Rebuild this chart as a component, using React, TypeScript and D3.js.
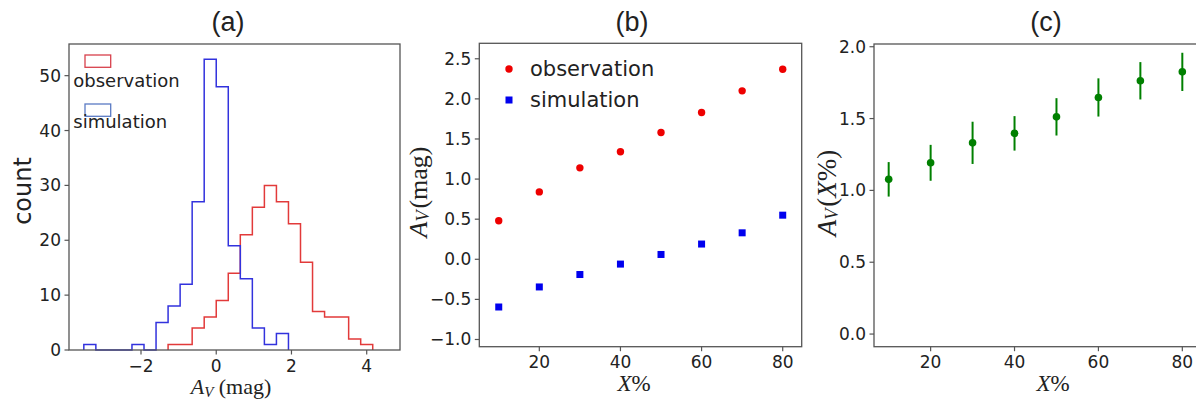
import React from "react";
import * as d3 from "d3";

// ---------- data ----------
const binWidth = 0.32;
const binStartIndex = -11; // first bin edge = -11 * 0.32
const obsCounts = [0, 0, 0, 0, 0, 0, 0, 1, 1, 4, 6, 9, 14, 21, 26, 30, 27, 23, 16, 7, 6, 6, 2, 1];
const simCounts = [1, 0, 0, 0, 1, 0, 5, 8, 12, 27, 53, 48, 19, 13, 4, 1, 3, 0, 0, 0, 0, 0, 0, 0];
const histXTicks = [-2, 0, 2, 4];
const histYTicks = [0, 10, 20, 30, 40, 50];

const xPercent = [10, 20, 30, 40, 50, 60, 70, 80];
const obsAv = [0.48, 0.84, 1.14, 1.34, 1.58, 1.83, 2.1, 2.37];
const simAv = [-0.595, -0.345, -0.19, -0.06, 0.06, 0.19, 0.33, 0.55];
const bYTicks = [-1.0, -0.5, 0.0, 0.5, 1.0, 1.5, 2.0, 2.5];
const pctTicks = [20, 40, 60, 80];

const avX = [1.077, 1.192, 1.331, 1.397, 1.512, 1.647, 1.763, 1.825];
const avXErr = [0.12, 0.125, 0.147, 0.12, 0.13, 0.133, 0.13, 0.133];
const cYTicks = [0.0, 0.5, 1.0, 1.5, 2.0];

// ---------- styles ----------
const SANS = "DejaVu Sans, sans-serif";
const SERIF = "Liberation Serif, DejaVu Serif, serif";
const TEXT = "#222";
const SPINE = "#555";
const TICK_FS = 17;

function stepPath(counts: number[], x: d3.ScaleLinear<number, number>, y: d3.ScaleLinear<number, number>) {
  const first = counts.findIndex((c) => c > 0);
  let last = counts.length - 1;
  while (last > 0 && counts[last] === 0) last--;
  const e = (i: number) => x((binStartIndex + i) * binWidth);
  let d = `M${e(first)},${y(0)}`;
  for (let i = first; i <= last; i++) {
    d += `L${e(i)},${y(counts[i])}L${e(i + 1)},${y(counts[i])}`;
  }
  d += `L${e(last + 1)},${y(0)}`;
  return d;
}

function Frame({ x0, x1, y0, y1 }: { x0: number; x1: number; y0: number; y1: number }) {
  return <rect x={x0} y={y1} width={x1 - x0} height={y0 - y1} fill="none" stroke={SPINE} strokeWidth={1.3} />;
}

function YAxis({ scale, ticks, x0, fmt }: { scale: d3.ScaleLinear<number, number>; ticks: number[]; x0: number; fmt: (v: number) => string }) {
  return (
    <g>
      {ticks.map((t) => (
        <g key={t}>
          <line x1={x0 - 4.5} x2={x0} y1={scale(t)} y2={scale(t)} stroke={SPINE} strokeWidth={1.2} />
          <text x={x0 - 8} y={scale(t)} textAnchor="end" dominantBaseline="central" fontFamily={SANS} fontSize={TICK_FS} fill={TEXT}>
            {fmt(t)}
          </text>
        </g>
      ))}
    </g>
  );
}

function XAxis({ scale, ticks, y0, fmt }: { scale: d3.ScaleLinear<number, number>; ticks: number[]; y0: number; fmt: (v: number) => string }) {
  return (
    <g>
      {ticks.map((t) => (
        <g key={t}>
          <line x1={scale(t)} x2={scale(t)} y1={y0} y2={y0 + 4.5} stroke={SPINE} strokeWidth={1.2} />
          <text x={scale(t)} y={y0 + 15.5} textAnchor="middle" dominantBaseline="central" fontFamily={SANS} fontSize={TICK_FS} fill={TEXT}>
            {fmt(t)}
          </text>
        </g>
      ))}
    </g>
  );
}

const minusFmt = (v: number) => (v < 0 ? "\u2212" + Math.abs(v) : String(v));
const fixed1 = (v: number) => (v < 0 ? "\u2212" + Math.abs(v).toFixed(1) : v.toFixed(1));

export default function App() {
  // panel a
  const aX0 = 69, aX1 = 400, aY0 = 350, aY1 = 44;
  const ax = d3.scaleLinear().domain([-3.914, 4.885]).range([aX0, aX1]);
  const ay = d3.scaleLinear().domain([0, 55.77]).range([aY0, aY1]);

  // panel b
  const bX0 = 479.3, bX1 = 801.7, bY0 = 346.7, bY1 = 43.3;
  const bx = d3.scaleLinear().domain([5.207, 84.68]).range([bX0, bX1]);
  const by = d3.scaleLinear().domain([-1.09, 2.693]).range([bY0, bY1]);

  // panel c
  const cX0 = 874, cX1 = 1197, cY0 = 346.7, cY1 = 44;
  const cx = d3.scaleLinear().domain([6.5, 83.5]).range([cX0, cX1]);
  const cy = d3.scaleLinear().domain([-0.088, 2.019]).range([cY0, cY1]);

  const sq = 7;

  return (
    <svg width={1196} height={399} style={{ position: "absolute", left: 0, top: 0, background: "#fff" }}>
      <rect x={0} y={0} width={1196} height={399} fill="#fff" />

      {/* titles */}
      <text x={228} y={22} textAnchor="middle" dominantBaseline="central" fontFamily="Liberation Sans, Arial, sans-serif" fontSize={27} fill={TEXT}>(a)</text>
      <text x={632} y={22} textAnchor="middle" dominantBaseline="central" fontFamily="Liberation Sans, Arial, sans-serif" fontSize={27} fill={TEXT}>(b)</text>
      <text x={1046} y={22} textAnchor="middle" dominantBaseline="central" fontFamily="Liberation Sans, Arial, sans-serif" fontSize={27} fill={TEXT}>(c)</text>

      {/* ---------- panel a ---------- */}
      <path d={stepPath(obsCounts, ax, ay)} fill="none" stroke="#e23a3a" strokeWidth={1.5} />
      <path d={stepPath(simCounts, ax, ay)} fill="none" stroke="#3232dd" strokeWidth={1.5} />
      <Frame x0={aX0} x1={aX1} y0={aY0} y1={aY1} />
      <YAxis scale={ay} ticks={histYTicks} x0={aX0} fmt={(v) => String(v)} />
      <XAxis scale={ax} ticks={histXTicks} y0={aY0} fmt={minusFmt} />
      {/* legend a */}
      <rect x={85} y={55} width={25.7} height={12.3} fill="none" stroke="#d8404c" strokeWidth={1.3} />
      <text x={73.3} y={86.7} fontFamily={SANS} fontSize={18} fill={TEXT}>observation</text>
      <rect x={85} y={104} width={25.7} height={12.3} fill="none" stroke="#5a7ac4" strokeWidth={1.3} />
      <text x={73.3} y={128.3} fontFamily={SANS} fontSize={18} fill={TEXT}>simulation</text>
      <text transform={`translate(23,191) rotate(-90)`} textAnchor="middle" dominantBaseline="central" fontFamily={SANS} fontSize={24} fill={TEXT}>count</text>
      <text x={231} y={394} textAnchor="middle" fontFamily={SERIF} fontSize={22} fill={TEXT}>
        <tspan fontStyle="italic">A</tspan>
        <tspan fontStyle="italic" fontSize={15} dy={3}>V</tspan>
        <tspan dy={-3}> (mag)</tspan>
      </text>

      {/* ---------- panel b ---------- */}
      <Frame x0={bX0} x1={bX1} y0={bY0} y1={bY1} />
      {xPercent.map((p, i) => (
        <circle key={"o" + p} cx={bx(p)} cy={by(obsAv[i])} r={3.7} fill="#ee0000" />
      ))}
      {xPercent.map((p, i) => (
        <rect key={"s" + p} x={bx(p) - sq / 2} y={by(simAv[i]) - sq / 2} width={sq} height={sq} fill="#0000ee" />
      ))}
      <YAxis scale={by} ticks={bYTicks} x0={bX0} fmt={fixed1} />
      <XAxis scale={bx} ticks={pctTicks} y0={bY0} fmt={(v) => String(v)} />
      {/* legend b */}
      <circle cx={509} cy={69} r={3.7} fill="#ee0000" />
      <text x={530} y={69} dominantBaseline="central" fontFamily={SANS} fontSize={21} fill={TEXT}>observation</text>
      <rect x={509 - sq / 2} y={100 - sq / 2} width={sq} height={sq} fill="#0000ee" />
      <text x={530} y={100} dominantBaseline="central" fontFamily={SANS} fontSize={21} fill={TEXT}>simulation</text>
      <text transform={`translate(418,192) rotate(-90)`} textAnchor="middle" dominantBaseline="central" fontFamily={SERIF} fontSize={26} fill={TEXT}>
        <tspan fontStyle="italic">A</tspan>
        <tspan fontStyle="italic" fontSize={18} dy={5}>V</tspan>
        <tspan dy={-5} dx={2}>(mag)</tspan>
      </text>
      <text x={634} y={391} textAnchor="middle" fontFamily={SERIF} fontSize={23} fill={TEXT}>
        <tspan fontStyle="italic">X</tspan>%
      </text>

      {/* ---------- panel c ---------- */}
      <Frame x0={cX0} x1={cX1} y0={cY0} y1={cY1} />
      {xPercent.map((p, i) => (
        <g key={"c" + p}>
          <line x1={cx(p)} x2={cx(p)} y1={cy(avX[i] - avXErr[i])} y2={cy(avX[i] + avXErr[i])} stroke="#008000" strokeWidth={2} />
          <circle cx={cx(p)} cy={cy(avX[i])} r={3.8} fill="#008000" />
        </g>
      ))}
      <YAxis scale={cy} ticks={cYTicks} x0={cX0} fmt={fixed1} />
      <XAxis scale={cx} ticks={pctTicks} y0={cY0} fmt={(v) => String(v)} />
      <text transform={`translate(827,193) rotate(-90)`} textAnchor="middle" dominantBaseline="central" fontFamily={SERIF} fontSize={27} fill={TEXT}>
        <tspan fontStyle="italic">A</tspan>
        <tspan fontStyle="italic" fontSize={18} dy={5}>V</tspan>
        <tspan dy={-5} dx={2}>(</tspan>
        <tspan fontStyle="italic">X</tspan>
        <tspan>%)</tspan>
      </text>
      <text x={1053} y={391} textAnchor="middle" fontFamily={SERIF} fontSize={23} fill={TEXT}>
        <tspan fontStyle="italic">X</tspan>%
      </text>
    </svg>
  );
}
